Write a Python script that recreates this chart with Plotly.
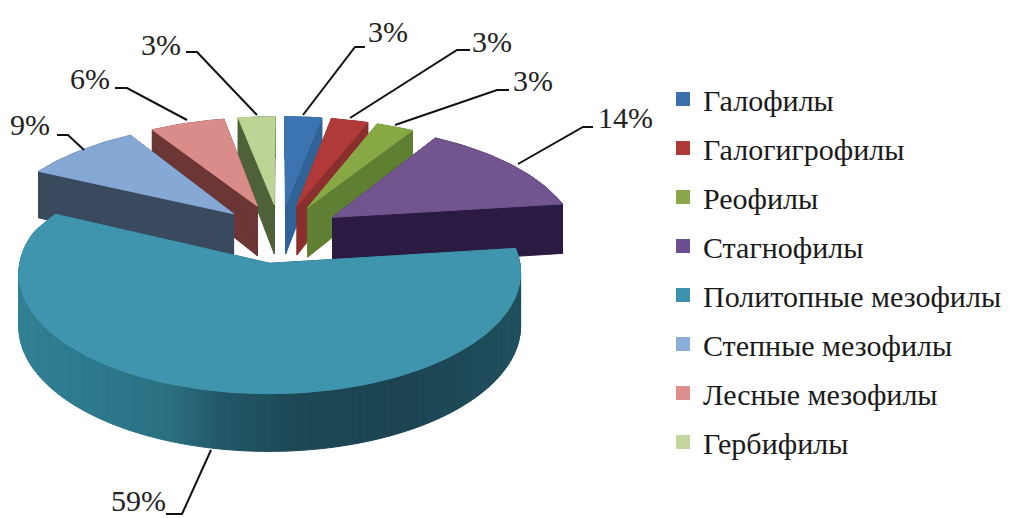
import numpy as np
import plotly.graph_objects as go

categories = ["Галофилы", "Галогигрофилы", "Реофилы", "Стагнофилы",
              "Политопные мезофилы", "Степные мезофилы", "Лесные мезофилы", "Гербифилы"]
values = [3, 3, 3, 14, 59, 9, 6, 3]
top_colors = ["#3b74b0", "#b03a38", "#88a845", "#72548f", "#3f95ae", "#86a8d4", "#d98c8a", "#bcd494"]
wall_colors = ["#2f6296", "#8a2f2d", "#5f7f32", "#2b1a42", "#24596a", "#3a4a5e", "#6b3633", "#4f6138"]
legend_colors = ["#3c70ac", "#ad3a37", "#8aa84a", "#6c4f92", "#3d93ad", "#8aaed8", "#dc8f8c", "#c3d69b"]

# pseudo-3D pie projection parameters
CX, CY = 280, 233
R, EXPLODE, P_BACK, P_FRONT, K, DEPTH = 245, 64, 0.0008, 0.00032, 0.47, 52
PAGE_MARGIN = 8  # the page body offsets the plot by this many pixels

# label layout: label centre, then leader elbow points
label_xy = [(388, 31), (492, 41), (533, 80), (625, 117), (138, 500), (30, 124), (90, 78), (161, 44)]
leaders = [
    [(365, 47), (355, 47), (303, 115)],
    [(470, 50), (457, 50), (350, 118)],
    [(509, 90), (497, 90), (395, 125)],
    [(593, 127), (583, 127), (518, 164)],
    [(166, 514), (182, 514), (211, 450)],
    [(57, 135), (68, 135), (84, 150)],
    [(115, 88), (127, 88), (187, 120)],
    [(186, 52), (197, 52), (257, 115)],
]


def proj(X, Y, drop=0.0):
    X = np.asarray(X, dtype=float)
    Y = np.asarray(Y, dtype=float)
    s = 1.0 / (1.0 + np.where(Y > 0, P_BACK, P_FRONT) * Y)
    return CX + X * s, CY - K * Y * s + drop * s


def poly(fig, xs, ys, color):
    xs = [float(v) for v in xs]
    ys = [float(v) for v in ys]
    fig.add_trace(go.Scatter(x=xs + [xs[0]], y=ys + [ys[0]], mode="lines", fill="toself", fillcolor=color,
                             line=dict(color=color, width=1), showlegend=False, hoverinfo="skip"))


def teal_wall_color(x):
    stops_x = [20, 90, 170, 220, 300, 400, 520]
    stops_c = [(50, 128, 148), (45, 122, 142), (43, 112, 130), (34, 88, 104), (30, 72, 86), (28, 68, 82), (32, 80, 94)]
    return "rgb(%d,%d,%d)" % tuple(np.interp(x, stops_x, [c[i] for c in stops_c]) for i in range(3))


fig = go.Figure()
total = sum(values)
edges = np.cumsum([0] + values) / total * 2 * np.pi
slices = []
for i, v in enumerate(values):
    a0, a1 = edges[i], edges[i + 1]
    mid = (a0 + a1) / 2
    ox, oy = EXPLODE * np.sin(mid), EXPLODE * np.cos(mid)
    slices.append((oy, i, a0, a1, ox, oy))

# painter's algorithm: farthest slice first
for _, i, a0, a1, ox, oy in sorted(slices, key=lambda t: -t[0]):
    t = np.linspace(a0, a1, max(8, int((a1 - a0) * 40)))
    X = ox + R * np.sin(t)
    Y = oy + R * np.cos(t)
    vx, vy = proj(ox, oy)
    vxb, vyb = proj(ox, oy, DEPTH)
    # radial walls
    for j in (0, -1):
        ex, ey = proj(X[j], Y[j])
        exb, eyb = proj(X[j], Y[j], DEPTH)
        poly(fig, [vx, ex, exb, vxb], [vy, ey, eyb, vyb], wall_colors[i])
    # outer wall
    xt, yt = proj(X, Y)
    xb, yb = proj(X, Y, DEPTH)
    if i == 4:
        for j in range(len(t) - 1):
            poly(fig, [xt[j], xt[j + 1], xb[j + 1], xb[j]], [yt[j], yt[j + 1], yb[j + 1], yb[j]],
                 teal_wall_color((xt[j] + xt[j + 1]) / 2))
    else:
        poly(fig, list(xt) + list(xb[::-1]), list(yt) + list(yb[::-1]), wall_colors[i])
    # top face
    poly(fig, [vx] + list(xt), [vy] + list(yt), top_colors[i])

# leaders
for pts in leaders:
    fig.add_trace(go.Scatter(x=[p[0] for p in pts], y=[p[1] for p in pts], mode="lines",
                             line=dict(color="#111111", width=2), showlegend=False, hoverinfo="skip"))

# legend entries
for i, name in enumerate(categories):
    fig.add_trace(go.Scatter(x=[None], y=[None], mode="markers", name=name, legendgroup=name,
                             marker=dict(symbol="square", size=14, color=legend_colors[i])))

for v, (lx, ly) in zip(values, label_xy):
    fig.add_annotation(x=lx, y=ly, text=f"{v}%", showarrow=False,
                       font=dict(family="Liberation Serif", size=30, color="#222222"))

W, H = 1009 - PAGE_MARGIN, 518 - PAGE_MARGIN
fig.update_layout(
    width=W, height=H, margin=dict(l=0, r=0, t=0, b=0),
    paper_bgcolor="white", plot_bgcolor="white",
    xaxis=dict(range=[PAGE_MARGIN, 1009], visible=False),
    yaxis=dict(range=[518, PAGE_MARGIN], visible=False),
    legend=dict(x=(663 - PAGE_MARGIN) / W, y=1 - (73 - PAGE_MARGIN) / H, xanchor="left", yanchor="top",
                font=dict(family="Liberation Serif", size=30, color="#1a1a1a"),
                tracegroupgap=7, bgcolor="rgba(0,0,0,0)"),
)
fig.write_html("out.html")
